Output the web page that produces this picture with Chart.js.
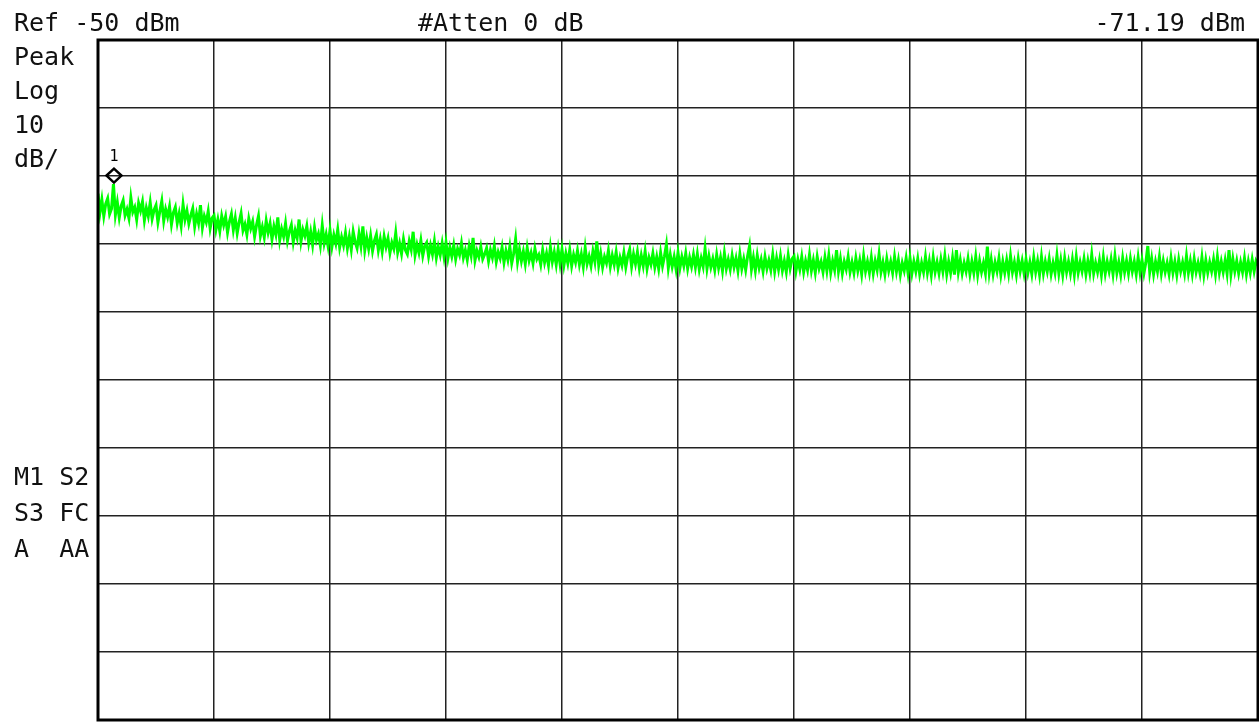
<!DOCTYPE html>
<html>
<head>
<meta charset="utf-8">
<script src="https://cdn.jsdelivr.net/npm/chart.js@4/dist/chart.umd.min.js"></script>
<style>
  html, body { margin: 0; padding: 0; background: #fff; }
  #wrap { width: 1259px; height: 724px; }
</style>
</head>
<body>
<div id="wrap"><canvas id="specChart" width="1259" height="724"></canvas></div>
<script>
// screen settings
const refLevel = -50;
const dbPerDiv = 10;
const numDivs = 10;
const sweepPoints = 600;

// header / side annotations
const headerLeft = "Ref -50 dBm";
const headerMid = "#Atten 0 dB";
const headerRight = "-71.19 dBm";
const sideTop = ["Peak", "Log", "10", "dB/"];
const sideBottom = ["M1 S2", "S3 FC", "A  AA"];

// marker 1
const markerIndex = 8;
const markerLevel = -71.19;
const markerLabel = "1";

// trace (dBm), 60 points per division
const traceDbm = [
  -72.6, -75.4, -73.5, -75.9, -74.1, -73.3, -75.6, -74.8, -71.2, -75.7,
  -73.9, -76.1, -74.4, -73.6, -75.8, -74.9, -76.2, -73.2, -75.3, -74.6,
  -76.4, -74.0, -75.1, -73.8, -76.5, -74.7, -75.9, -73.9, -76.3, -75.0,
  -74.3, -76.8, -75.2, -73.7, -76.6, -74.9, -76.0, -74.5, -77.1, -75.4,
  -74.6, -76.9, -75.5, -77.3, -74.2, -76.4, -75.1, -77.0, -75.8, -74.8,
  -77.4, -75.6, -76.9, -74.3, -77.6, -75.9, -76.8, -75.2, -77.7, -76.2,

  -75.8, -77.9, -76.4, -78.1, -75.9, -77.2, -76.0, -78.3, -76.7, -75.6,
  -77.9, -76.2, -78.4, -76.8, -75.5, -78.0, -77.1, -78.6, -76.3, -77.7,
  -76.7, -78.9, -77.2, -75.9, -78.8, -77.5, -79.0, -76.6, -78.3, -77.0,
  -79.3, -77.4, -78.6, -76.1, -79.4, -77.8, -78.9, -77.0, -79.5, -78.1,
  -77.2, -79.7, -78.0, -79.1, -76.4, -79.6, -77.9, -78.8, -77.4, -79.8,
  -78.2, -80.1, -77.6, -79.4, -78.5, -80.2, -77.3, -79.9, -78.6, -80.3,

  -78.0, -80.4, -78.7, -79.9, -77.9, -80.5, -79.0, -80.2, -78.4, -80.6,
  -78.9, -80.8, -78.2, -79.7, -80.6, -78.5, -80.3, -77.4, -80.9, -79.1,
  -80.7, -78.8, -81.0, -79.5, -78.6, -80.9, -79.3, -81.1, -78.9, -80.4,
  -79.2, -81.3, -79.8, -80.7, -78.4, -81.2, -79.9, -81.4, -79.3, -80.9,
  -81.5, -79.6, -80.8, -78.2, -81.6, -80.1, -81.3, -79.5, -81.7, -80.3,
  -79.8, -81.8, -80.2, -81.5, -79.6, -82.0, -80.4, -81.6, -79.9, -81.9,

  -79.8, -82.1, -80.5, -81.8, -80.2, -82.2, -80.7, -81.6, -79.9, -82.0,
  -80.9, -82.3, -80.3, -81.7, -79.1, -82.4, -81.0, -81.9, -80.4, -82.2,
  -81.5, -80.6, -82.5, -80.9, -82.0, -80.3, -82.6, -81.2, -82.1, -80.5,
  -82.7, -81.0, -82.3, -80.4, -82.8, -81.4, -79.3, -82.6, -80.8, -82.5,
  -81.1, -82.9, -80.6, -82.4, -81.3, -82.8, -80.7, -82.2, -81.6, -83.0,
  -80.9, -82.7, -81.4, -83.1, -80.5, -82.6, -81.2, -83.0, -80.8, -82.9,

  -80.8, -83.1, -81.4, -82.8, -80.9, -83.2, -81.6, -82.7, -81.0, -83.0,
  -81.5, -83.3, -80.6, -82.9, -81.8, -83.2, -81.1, -82.6, -79.6, -83.1,
  -81.4, -83.4, -81.9, -82.8, -81.0, -83.3, -81.7, -83.0, -81.2, -83.5,
  -82.0, -83.1, -81.3, -83.4, -81.8, -80.8, -83.3, -81.5, -82.9, -81.2,
  -83.5, -81.7, -83.2, -81.1, -83.6, -82.0, -83.0, -81.4, -83.4, -81.9,
  -83.6, -81.3, -83.2, -81.8, -80.1, -83.5, -81.6, -83.3, -81.9, -83.7,

  -81.3, -83.5, -81.9, -83.2, -81.4, -83.6, -82.0, -83.3, -81.6, -83.4,
  -81.5, -83.7, -82.1, -83.3, -80.7, -83.6, -81.8, -83.4, -82.2, -83.8,
  -81.6, -83.5, -82.0, -83.9, -81.4, -83.6, -82.3, -83.7, -81.7, -83.4,
  -82.1, -83.9, -81.5, -83.6, -82.2, -83.8, -81.8, -80.3, -83.7, -82.0,
  -83.9, -81.7, -83.5, -82.3, -84.0, -81.9, -83.6, -82.4, -83.8, -81.6,
  -84.0, -82.1, -83.7, -81.8, -83.9, -82.5, -84.1, -81.7, -83.6, -82.2,

  -81.8, -84.0, -82.3, -83.7, -81.9, -84.1, -82.5, -83.8, -81.6, -83.9,
  -82.4, -84.2, -81.9, -83.6, -82.6, -84.1, -82.0, -83.9, -81.7, -84.2,
  -82.5, -83.8, -80.9, -84.0, -82.2, -84.3, -82.6, -83.7, -81.9, -84.1,
  -82.7, -84.2, -82.1, -83.9, -82.4, -84.4, -81.8, -84.0, -82.6, -84.2,
  -82.0, -84.3, -82.5, -83.8, -81.5, -84.1, -82.7, -84.4, -82.2, -83.9,
  -82.6, -84.2, -81.9, -84.0, -82.4, -84.5, -82.8, -83.9, -82.1, -84.3,

  -82.1, -84.3, -82.6, -84.0, -82.2, -84.4, -82.8, -84.1, -81.9, -84.2,
  -82.5, -84.5, -82.0, -84.1, -82.7, -84.3, -82.3, -84.0, -81.8, -84.4,
  -82.6, -84.2, -82.1, -84.5, -80.9, -84.1, -82.4, -84.3, -82.8, -84.0,
  -82.2, -84.4, -82.6, -84.2, -81.9, -84.5, -82.5, -84.1, -82.8, -84.3,
  -80.4, -84.2, -82.3, -84.4, -82.7, -84.0, -82.1, -84.5, -82.6, -84.2,
  -82.4, -84.3, -81.8, -84.1, -82.7, -84.5, -82.2, -84.0, -82.5, -84.3,

  -82.3, -84.2, -82.7, -84.4, -82.0, -84.1, -82.5, -84.5, -81.9, -84.3,
  -82.6, -84.0, -82.2, -84.4, -82.8, -84.2, -81.7, -84.3, -82.4, -84.5,
  -82.1, -84.1, -82.6, -84.3, -82.3, -84.5, -81.9, -84.2, -82.7, -84.0,
  -82.2, -84.4, -82.5, -84.2, -81.6, -84.3, -82.8, -84.1, -82.4, -84.5,
  -82.0, -84.3, -82.6, -84.0, -82.3, -84.4, -81.8, -84.2, -82.7, -84.5,
  -82.1, -84.1, -82.5, -84.3, -82.2, -84.0, -82.6, -84.4, -82.0, -84.2,

  -82.4, -84.3, -82.7, -80.3, -84.1, -82.2, -84.4, -82.6, -84.0, -81.9,
  -84.3, -82.5, -84.1, -82.8, -84.4, -82.1, -84.2, -82.6, -84.5, -82.3,
  -84.0, -82.7, -84.3, -81.8, -84.2, -82.5, -84.4, -82.2, -84.1, -82.8,
  -84.3, -82.0, -84.5, -82.4, -84.2, -82.7, -84.0, -82.3, -84.4, -81.9,
  -84.2, -82.6, -84.1, -82.4, -84.3, -80.9, -84.4, -82.2, -84.0, -82.5,
  -84.3, -82.7, -84.1, -82.1, -84.4, -82.6, -84.2, -82.3, -84.0, -82.5,
  -83.1
];

const points = traceDbm.map((v, i) => ({ x: i, y: v }));
const screenFont = '25px "DejaVu Sans Mono", "Liberation Mono", monospace';

// frame, marker and annotation text
const overlay = {
  id: "overlay",
  afterDraw(chart) {
    const { ctx, chartArea, scales } = chart;
    ctx.save();

    // marker diamond sits just above the trace point
    const mx = scales.x.getPixelForValue(markerIndex) + 0.5;
    const my = scales.y.getPixelForValue(markerLevel) - 8.5;
    ctx.beginPath();
    ctx.moveTo(mx, my - 7);
    ctx.lineTo(mx + 7.5, my);
    ctx.lineTo(mx, my + 7);
    ctx.lineTo(mx - 7.5, my);
    ctx.closePath();
    ctx.lineWidth = 2.5;
    ctx.strokeStyle = "#000";
    ctx.stroke();
    ctx.fillStyle = "#000";
    ctx.font = '15px "DejaVu Sans Mono", monospace';
    ctx.textAlign = "center";
    ctx.textBaseline = "alphabetic";
    ctx.fillText(markerLabel, mx, my - 15);

    // heavy graticule frame
    ctx.lineWidth = 3;
    ctx.strokeRect(chartArea.left, chartArea.top, chartArea.right - chartArea.left, chartArea.bottom - chartArea.top);

    ctx.font = screenFont;
    ctx.fillStyle = "#111";
    ctx.textAlign = "left";
    ctx.fillText(headerLeft, 14, 31);
    ctx.fillText(headerMid, 418, 31);
    ctx.textAlign = "right";
    ctx.fillText(headerRight, 1245, 31);
    ctx.textAlign = "left";
    sideTop.forEach((t, i) => ctx.fillText(t, 14, 65 + i * 34));
    sideBottom.forEach((t, i) => ctx.fillText(t, 14, 485 + i * 36));
    ctx.restore();
  }
};

new Chart(document.getElementById("specChart"), {
  type: "line",
  data: {
    datasets: [{
      data: points,
      borderColor: "#00ff00",
      borderWidth: 3,
      pointRadius: 0,
      tension: 0,
    }],
  },
  options: {
    responsive: false,
    animation: false,
    events: [],
    layout: { padding: { left: 98, top: 40, right: 1, bottom: 4 } },
    plugins: { legend: { display: false }, tooltip: { enabled: false } },
    scales: {
      x: {
        type: "linear",
        min: 0,
        max: sweepPoints,
        z: 1,
        ticks: { display: false, stepSize: sweepPoints / numDivs },
        grid: { color: "#222", lineWidth: 1.5, drawTicks: false },
        border: { display: false },
      },
      y: {
        type: "linear",
        min: refLevel - dbPerDiv * numDivs,
        max: refLevel,
        z: 1,
        ticks: { display: false, stepSize: dbPerDiv },
        grid: { color: "#222", lineWidth: 1.5, drawTicks: false },
        border: { display: false },
      },
    },
  },
  plugins: [overlay],
});
</script>
</body>
</html>
